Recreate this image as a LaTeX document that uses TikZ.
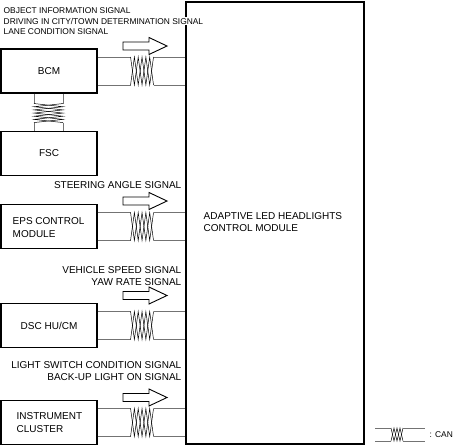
\documentclass[tikz,border=0pt]{standalone}
\usepackage{fontspec}
\setmainfont{Liberation Sans}
\begin{document}
\begin{tikzpicture}[x=1pt,y=-1pt,
  box/.style={draw=black,line width=1.1pt,minimum width=96pt,minimum height=44pt,inner sep=0pt},
  bigbox/.style={draw=black,line width=1.3pt,minimum width=178pt,minimum height=442pt,inner sep=0pt},
  lbl/.style={font=\fontsize{10}{12.3}\selectfont,inner sep=0.5pt},
  toplbl/.style={font=\fontsize{8.4}{10}\selectfont,inner sep=0.5pt},
  wire/.style={draw=black!55,line width=0.6pt},
  twist/.style={draw=black,line width=0.5pt},
  sigarrow/.style={draw=black,line width=0.9pt,fill=white}]
\useasboundingbox (0,0) rectangle (456,445);
% main module
\node[bigbox] (alm) at (275,223) {};
\node[lbl,anchor=west,align=left] (almtext) at (203,222) {ADAPTIVE LED HEADLIGHTS\\CONTROL MODULE};
% boxes
\node[box] (bcm) at (49,71) {};
\node[lbl] at (bcm) {BCM};
\node[box] (fsc) at (49,153.5) {};
\node[lbl] at (fsc) {FSC};
\node[box] (eps) at (49,226.5) {};
\node[lbl,anchor=west,align=left] at (12,227.5) {EPS CONTROL\\MODULE};
\node[box] (dsc) at (49,325.5) {};
\node[lbl,anchor=west] at (20,325.5) {DSC HU/CM};
\node[box] (inst) at (49,422.5) {};
\node[lbl,anchor=west,align=left] at (16,422.5) {INSTRUMENT\\CLUSTER};
% labels
\node[toplbl,anchor=west] (t1) at (3,10.5) {OBJECT INFORMATION SIGNAL};
\node[toplbl,anchor=west,fill=white] (t2) at (3,21) {DRIVING IN CITY/TOWN DETERMINATION SIGNAL};
\node[toplbl,anchor=west] (t3) at (3,31.5) {LANE CONDITION SIGNAL};
\node[lbl,anchor=east] (t4) at (182,185) {STEERING ANGLE SIGNAL};
\node[lbl,anchor=east,align=right] (t5) at (182,276) {VEHICLE SPEED SIGNAL\\YAW RATE SIGNAL};
\node[lbl,anchor=east,align=right] (t6) at (182,371) {LIGHT SWITCH CONDITION SIGNAL\\BACK-UP LIGHT ON SIGNAL};
% CAN wires
\newcommand\canwire[1]{%
  \coordinate (#1T) at ([yshift=14pt]#1.east);
  \coordinate (#1B) at ([yshift=-14pt]#1.east);
  \draw[wire] (#1T) -- ++(33,0);
  \draw[twist] ([xshift=33pt]#1T) -- ++(3.83,28) -- ++(3.83,-28) -- ++(3.83,28) -- ++(3.83,-28) -- ++(3.83,28) -- ++(3.83,-28);
  \draw[wire] ([xshift=56pt]#1T) -- (#1T -| alm.west);
  \draw[wire] (#1B) -- ++(33,0);
  \draw[twist] ([xshift=33pt]#1B) -- ++(3.83,-28) -- ++(3.83,28) -- ++(3.83,-28) -- ++(3.83,28) -- ++(3.83,-28) -- ++(3.83,28);
  \draw[wire] ([xshift=56pt]#1B) -- (#1B -| alm.west);
}
\canwire{bcm}
\canwire{eps}
\canwire{dsc}
\canwire{inst}
% BCM-FSC
\coordinate (vL) at ([xshift=-15pt]bcm.south);
\coordinate (vR) at ([xshift=14pt]bcm.south);
\draw[wire] (vL) -- ++(0,10);
\draw[wire] (vR) -- ++(0,10);
\draw[twist] ([yshift=-10pt]vL) -- ++(29,3.17) -- ++(-29,3.17) -- ++(29,3.17) -- ++(-29,3.17) -- ++(29,3.17) -- ++(-29,3.17);
\draw[twist] ([yshift=-10pt]vR) -- ++(-29,3.17) -- ++(29,3.17) -- ++(-29,3.17) -- ++(29,3.17) -- ++(-29,3.17) -- ++(29,3.17);
\draw[wire] ([yshift=-29pt]vL) -- (vL |- fsc.north);
\draw[wire] ([yshift=-29pt]vR) -- (vR |- fsc.north);
% signal arrows
\newcommand\sigarrow[1]{\draw[sigarrow] (#1) ++(0,-4) -- ++(26,0) -- ++(0,-4.5) -- ++(18,8.5) -- ++(-18,8.5) -- ++(0,-4.5) -- ++(-26,0) -- cycle;}
\coordinate (a1) at (123,46);
\coordinate (a2) at (123,201);
\coordinate (a3) at (123,295.5);
\coordinate (a4) at (123,397.5);
\sigarrow{a1}\sigarrow{a2}\sigarrow{a3}\sigarrow{a4}
% legend
\coordinate (lgT) at (375,428);
\coordinate (lgB) at (375,441);
\draw[wire] (lgT) -- ++(16,0);
\draw[wire] (lgB) -- ++(16,0);
\draw[twist] ([xshift=16pt]lgT) -- ++(3,13) -- ++(3,-13) -- ++(3,13) -- ++(3,-13);
\draw[twist] ([xshift=16pt]lgB) -- ++(3,-13) -- ++(3,13) -- ++(3,-13) -- ++(3,13);
\draw[wire] ([xshift=28pt]lgT) -- ++(22,0);
\draw[wire] ([xshift=28pt]lgB) -- ++(22,0);
\node[toplbl,anchor=west] (can) at (429,435) {: CAN};
\end{tikzpicture}
\end{document}
